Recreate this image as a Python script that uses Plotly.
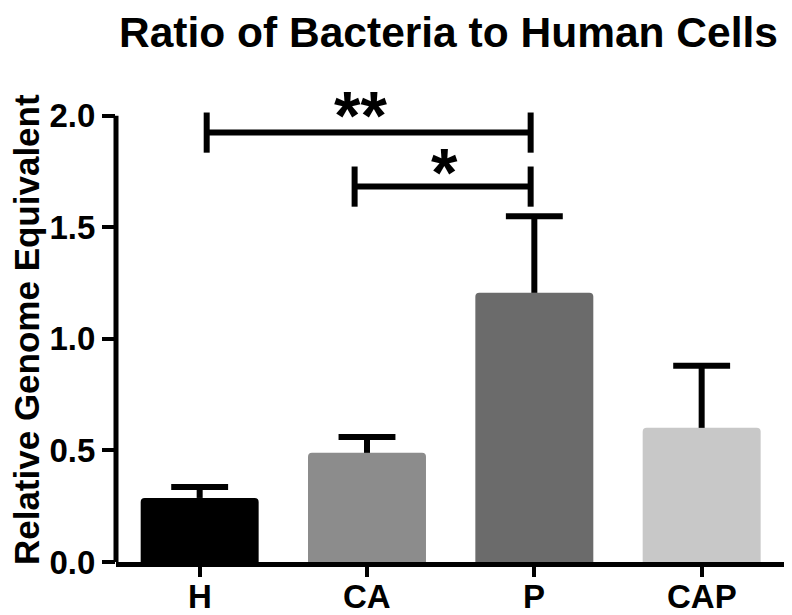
import plotly.graph_objects as go

# data
groups = ["H", "CA", "P", "CAP"]
means = [0.287, 0.489, 1.206, 0.601]
upper = [0.336, 0.560, 1.549, 0.879]   # top of the (upper only) error bars
bar_colors = ["#000000", "#8c8c8c", "#6b6b6b", "#c8c8c8"]

# significance brackets: (left group, right group, height, label)
sig_left = ["H", "CA"]
sig_right = ["P", "P"]
sig_height = [1.924, 1.682]
sig_label = ["**", "*"]

FONT = "Liberation Sans, Arial, sans-serif"
xpos = list(range(len(groups)))

fig = go.Figure()
fig.add_trace(go.Bar(x=xpos, y=means, width=0.705,
                     marker=dict(color=bar_colors, line=dict(width=0), cornerradius=4),
                     showlegend=False, hoverinfo="skip"))

# error bars drawn as lines so there is no cap at the bar top
cap = 0.17
ex, ey = [], []
for i, (m, u) in enumerate(zip(means, upper)):
    ex += [i, i, None, i - cap, i + cap, None]
    ey += [m, u, None, u, u, None]
fig.add_trace(go.Scatter(x=ex, y=ey, mode="lines", line=dict(color="black", width=6),
                         showlegend=False, hoverinfo="skip"))

# brackets
tip = 0.09
nudge_l = {"H": 0.042, "CA": -0.074}
nudge_r = {"P": -0.022}
star_shift = {"**": (-8, -22), "*": (2, -25)}
bx, by = [], []
for l, r, h, lab in zip(sig_left, sig_right, sig_height, sig_label):
    x0 = groups.index(l) + nudge_l.get(l, 0)
    x1 = groups.index(r) + nudge_r.get(r, 0)
    bx += [x0, x0, None, x0, x1, None, x1, x1, None]
    by += [h - tip, h + tip, None, h, h, None, h - tip, h + tip, None]
    fig.add_annotation(x=(x0 + x1) / 2, y=h, text=lab, showarrow=False,
                       xanchor="center", yanchor="bottom",
                       xshift=star_shift[lab][0], yshift=star_shift[lab][1],
                       font=dict(family=FONT, size=68, color="black", weight="bold"))
fig.add_trace(go.Scatter(x=bx, y=by, mode="lines", line=dict(color="black", width=6),
                         showlegend=False, hoverinfo="skip"))

# y axis line only from 0 to 2
fig.add_shape(type="line", xref="paper", yref="y", x0=0, x1=0, y0=0, y1=2,
              line=dict(color="black", width=5))

# category labels under the axis
for i, g in enumerate(groups):
    fig.add_annotation(x=i, y=0, text=g, showarrow=False, xanchor="center",
                       yanchor="top", yshift=-14,
                       font=dict(family=FONT, size=33, color="black", weight="bold"))

fig.add_annotation(text="Relative Genome Equivalent", xref="paper", yref="paper",
                   x=-0.134, y=0.4725, textangle=-90, showarrow=False,
                   xanchor="center", yanchor="middle",
                   font=dict(family=FONT, size=35, color="black", weight="bold"))

# the page body adds an 8px margin, so the figure is 8px smaller than the window
fig.update_layout(
    width=784, height=607,
    margin=dict(l=108, r=5, t=63, b=53, autoexpand=False),
    paper_bgcolor="white", plot_bgcolor="white",
    title=dict(text="Ratio of Bacteria to Human Cells", x=0.4955, xref="paper",
               y=1 - 24 / 607, yref="container", yanchor="middle",
               font=dict(family=FONT, size=42.5, color="black", weight="bold")),
    xaxis=dict(range=[-0.5, 3.51], tickvals=xpos, showticklabels=False,
               showline=True, linecolor="black", linewidth=5,
               ticks="outside", ticklen=10, tickwidth=4, tickcolor="black",
               showgrid=False, zeroline=False, fixedrange=True),
    yaxis=dict(range=[0, 2.2], tickvals=[0, 0.5, 1.0, 1.5, 2.0],
               ticktext=["0.0", "0.5", "1.0", "1.5", "2.0"],
               showline=False, ticks="outside", ticklen=13, tickwidth=4, tickcolor="black",
               showgrid=False, zeroline=False, fixedrange=True,
               tickfont=dict(family=FONT, size=33, color="black", weight="bold")),
)

fig.write_html("out.html")
